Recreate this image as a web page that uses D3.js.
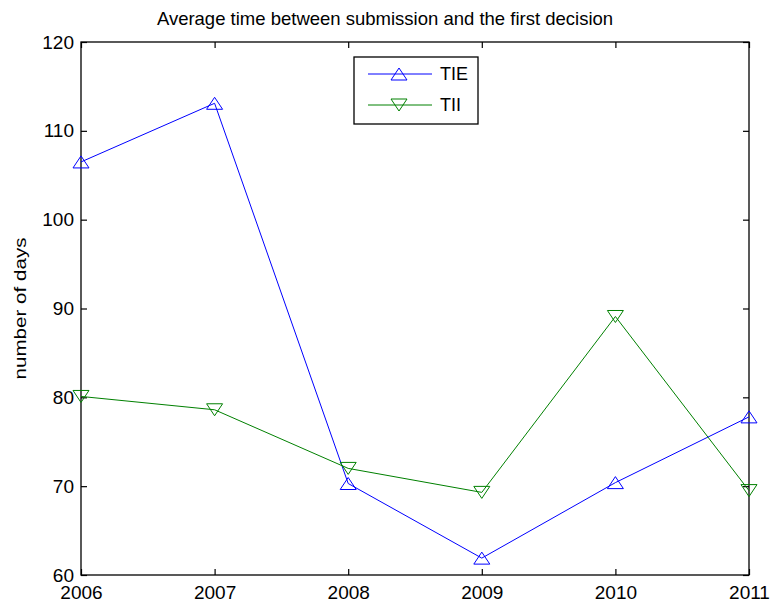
<!DOCTYPE html>
<html>
<head>
<meta charset="utf-8">
<script src="https://cdn.jsdelivr.net/npm/d3@7"></script>
<style>
    body { margin: 0; background: #fff; }
    svg { display: block; font-family: "Liberation Sans", Arial, sans-serif; }
</style>
</head>
<body>
<script>
var years = [2006, 2007, 2008, 2009, 2010, 2011];
var tie = [106.5, 113.1, 70.3, 61.9, 70.4, 77.8];
var tii = [80.1, 78.6, 72.0, 69.3, 89.1, 69.5];
var yTicks = [60, 70, 80, 90, 100, 110, 120];
var seriesNames = ["TIE", "TII"];
var seriesColors = ["#0000ff", "#008000"];

Plot();

function Triangle(w, h, up) {
    // bbox-centred triangle like the matlab marker
    if (up) return "M0," + (-h / 2) + "L" + (w / 2) + "," + (h / 2) + "L" + (-w / 2) + "," + (h / 2) + "Z";
    return "M0," + (h / 2) + "L" + (w / 2) + "," + (-h / 2) + "L" + (-w / 2) + "," + (-h / 2) + "Z";
}

function Plot() {
    var W = 770, H = 604;
    var margin = { top: 42, right: 21, bottom: 29, left: 81 };
    var width = W - margin.left - margin.right;
    var height = H - margin.top - margin.bottom;

    var svg = d3.select("body").append("svg")
        .attr("width", W)
        .attr("height", H);

    var g = svg.append("g")
        .attr("transform", "translate(" + margin.left + "," + margin.top + ")");

    var x = d3.scaleLinear().domain([2006, 2011]).range([0, width]);
    var y = d3.scaleLinear().domain([60, 120]).range([height, 0]);

    // axes, ticks pointing inward on all four sides
    var xBottom = d3.axisBottom(x).tickValues(years).tickFormat(d3.format("d")).tickSizeInner(-6).tickSizeOuter(0).tickPadding(14);
    var xTop = d3.axisTop(x).tickValues(years).tickFormat("").tickSizeInner(-6).tickSizeOuter(0);
    var yLeft = d3.axisLeft(y).tickValues(yTicks).tickSizeInner(-6).tickSizeOuter(0).tickPadding(7);
    var yRight = d3.axisRight(y).tickValues(yTicks).tickFormat("").tickSizeInner(-6).tickSizeOuter(0);

    var gx = g.append("g").attr("transform", "translate(0," + height + ")").call(xBottom);
    g.append("g").call(xTop);
    var gy = g.append("g").call(yLeft);
    g.append("g").attr("transform", "translate(" + width + ",0)").call(yRight);

    g.selectAll(".domain").remove();
    g.selectAll(".tick line").attr("stroke", "#000").attr("stroke-width", 1.2);
    gx.selectAll("text").attr("font-size", 19).attr("fill", "#000").attr("dy", "0.55em");
    gy.selectAll("text").attr("font-size", 19).attr("fill", "#000");

    g.append("rect")
        .attr("width", width)
        .attr("height", height)
        .attr("fill", "none")
        .attr("stroke", "#000")
        .attr("stroke-width", 1.3);

    var data = [tie, tii];
    var line = d3.line()
        .x(function (d, i) { return x(years[i]); })
        .y(function (d) { return y(d); });

    data.forEach(function (vals, k) {
        g.append("path")
            .datum(vals)
            .attr("fill", "none")
            .attr("stroke", seriesColors[k])
            .attr("stroke-width", 1)
            .attr("d", line);

        g.selectAll(".mk" + k)
            .data(vals)
            .enter().append("path")
            .attr("class", "mk" + k)
            .attr("transform", function (d, i) { return "translate(" + x(years[i]) + "," + y(d) + ")"; })
            .attr("d", Triangle(16, 12, k === 0))
            .attr("fill", "none")
            .attr("stroke", seriesColors[k])
            .attr("stroke-width", 1);
    });

    // title
    svg.append("text")
        .attr("x", 385)
        .attr("y", 25)
        .attr("text-anchor", "middle")
        .attr("font-size", 18.5)
        .text("Average time between submission and the first decision");

    // text label for the y axis
    svg.append("text")
        .attr("transform", "translate(25.5," + (margin.top + height / 2) + ") rotate(-90)")
        .attr("text-anchor", "middle")
        .attr("font-size", 17)
        .attr("textLength", 142)
        .attr("lengthAdjust", "spacingAndGlyphs")
        .text("number of days");

    // legend
    var lg = svg.append("g").attr("transform", "translate(354,57)");
    lg.append("rect")
        .attr("width", 124)
        .attr("height", 67)
        .attr("fill", "#fff")
        .attr("stroke", "#000")
        .attr("stroke-width", 1.3);
    seriesNames.forEach(function (name, k) {
        var ly = 17 + k * 31;
        lg.append("line")
            .attr("x1", 14).attr("x2", 78)
            .attr("y1", ly).attr("y2", ly)
            .attr("stroke", seriesColors[k]);
        lg.append("path")
            .attr("transform", "translate(45," + ly + ")")
            .attr("d", Triangle(16, 12, k === 0))
            .attr("fill", "none")
            .attr("stroke", seriesColors[k]);
        lg.append("text")
            .attr("x", 86)
            .attr("y", ly)
            .attr("dy", "0.36em")
            .attr("font-size", 18)
            .text(name);
    });
}
</script>
</body>
</html>
